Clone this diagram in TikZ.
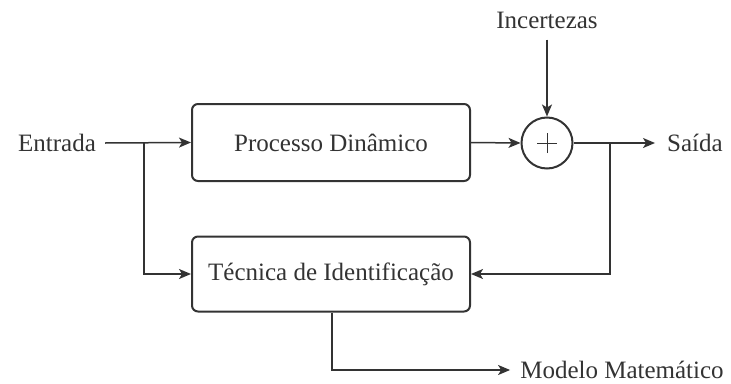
\documentclass[tikz,border=0pt]{standalone}
\usepackage{fontspec}
\setmainfont{Liberation Serif}
\usetikzlibrary{arrows.meta}
\definecolor{ink}{HTML}{333333}
\begin{document}
\begin{tikzpicture}[x=1pt,y=-1pt,
  every node/.style={font=\fontsize{25}{30}\selectfont, text=ink},
  box/.style={draw=ink, line width=2pt, rounded corners=6pt, minimum width=278pt, inner sep=0pt},
  lbl/.style={inner sep=0pt},
  wire/.style={draw=ink, line width=1.5pt},
  arr/.style={wire, -{Stealth[length=12pt,width=10pt,inset=3pt]}}]
\useasboundingbox (0,0) rectangle (731,383);
\node[lbl] (in) at (57,143) {Entrada};
\node[box, minimum height=77pt] (proc) at (331,142.5) {Processo Dinâmico};
\node[box, minimum height=75pt] (tec) at (331,274) {Técnica de Identificação};
\node[circle, draw=ink, line width=2pt, minimum size=51pt, inner sep=0pt] (sum) at (547,143) {};
\node[lbl] (inc) at (547,20) {Incertezas};
\node[lbl] (out) at (695,143) {Saída};
\node[lbl] (mod) at (622,370) {Modelo Matemático};
\coordinate (b1) at (144,143);
\coordinate (b2) at (610,143);
\coordinate (b3) at (332,370);
% plus sign
\draw[ink, line width=1pt] ([xshift=-10pt]sum.center) -- ([xshift=10pt]sum.center)
  ([yshift=-10pt]sum.center) -- ([yshift=10pt]sum.center);
% connectors
\draw[arr] ([xshift=9pt]in.east) -- (proc.west);
\draw[arr] (b1) |- (tec.west);
\draw[arr] (proc.east) -- (sum.west);
\draw[arr] ([yshift=-11pt]inc.south) -- (sum.north);
\draw[arr] (sum.east) -- ([xshift=-12pt]out.west);
\draw[arr] (b2) |- (tec.east);
\draw[arr] (tec.south -| b3) |- ([xshift=-10pt]mod.west);
\end{tikzpicture}
\end{document}
